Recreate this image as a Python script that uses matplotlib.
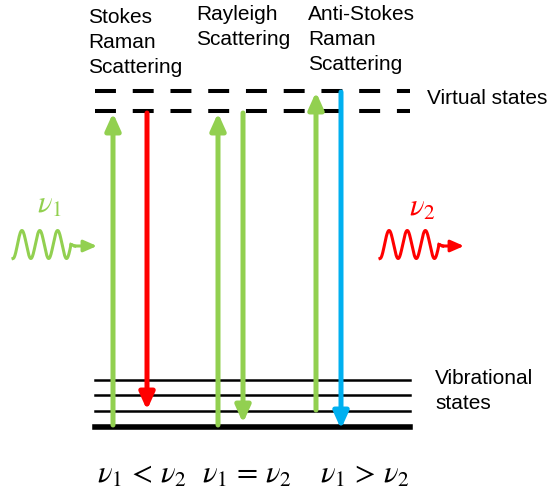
import numpy as np
import matplotlib
matplotlib.use('Agg')
import matplotlib.pyplot as plt

plt.rcParams['mathtext.fontset'] = 'stix'

GREEN = '#92D050'
RED = '#FF0000'
BLUE = '#00B0F0'

# energy levels (pixel rows of the scheme)
virtual_levels = [91, 111]
vibrational_levels = [380, 395, 411]
ground_level = 427

# transitions: x, start, end, colour
transitions = [
    (113, 425, 113, GREEN),
    (147, 113, 410, RED),
    (218, 425, 113, GREEN),
    (243, 113, 423, GREEN),
    (316, 410, 92, GREEN),
    (341, 92, 429, BLUE),
]

process_labels = ['Stokes\nRaman\nScattering', 'Rayleigh\nScattering', 'Anti-Stokes\nRaman\nScattering']
process_x = [88, 196, 308]
process_y = [8, 5, 5]
relation_labels = [r'$\nu_1\,<\,\nu_2$', r'$\nu_1\,=\,\nu_2$', r'$\nu_1\,>\,\nu_2$']
relation_x = [142, 247, 365]

fig = plt.figure(figsize=(5.5, 4.98), dpi=100)
ax = fig.add_axes([0, 0, 1, 1])
ax.set_xlim(0, 550)
ax.set_ylim(498, 0)
ax.axis('off')

font = 'Liberation Sans'

for y in virtual_levels:
    ax.plot([95, 410], [y, y], color='black', lw=2.9, linestyle=(0, (5.2, 4.17)), solid_capstyle='butt')
for y in vibrational_levels:
    ax.plot([95, 410], [y, y], color='black', lw=1.8)
ax.plot([95, 410], [ground_level, ground_level], color='black', lw=4)

for x, y0, y1, c in transitions:
    ax.annotate('', xy=(x, y1), xytext=(x, y0),
                arrowprops=dict(arrowstyle='-|>,head_length=1.0,head_width=0.45', color=c, lw=3.6,
                                shrinkA=0, shrinkB=0))

for lab, x, y in zip(process_labels, process_x, process_y):
    ax.text(x, y, lab, ha='left', va='top', fontsize=15, family=font, linespacing=1.4)

ax.text(427, 98, 'Virtual states', ha='left', va='center', fontsize=15, family=font)
ax.text(435, 391, 'Vibrational\nstates', ha='left', va='center', fontsize=15, family=font, linespacing=1.4)

# incoming / scattered photons
def photon(x0, x1, xa, y, c):
    t = np.linspace(0, 1, 300)
    xs = x0 + (x1 - x0) * t
    ys = y + 14 * np.cos(2 * np.pi * 3.25 * t)
    ax.plot(xs, ys, color=c, lw=2.2)
    ax.plot([x1, x1 + 4], [y, y + 1.5], color=c, lw=2.2)
    ax.annotate('', xy=(xa, y + 1.5), xytext=(x1 + 3, y + 1.5),
                arrowprops=dict(arrowstyle='-|>,head_length=0.8,head_width=0.35', color=c, lw=2.2,
                                shrinkA=0, shrinkB=0))

photon(13, 71, 97, 244.5, GREEN)
photon(380, 439, 464, 244.5, RED)
ax.text(49, 213, r'$\nu_1$', color=GREEN, fontsize=22, ha='center', va='baseline')
ax.text(422, 216, r'$\nu_2$', color=RED, fontsize=22, ha='center', va='baseline')

for lab, x in zip(relation_labels, relation_x):
    ax.text(x, 483, lab, ha='center', va='baseline', fontsize=22)

fig.savefig('out.png', dpi=100)
